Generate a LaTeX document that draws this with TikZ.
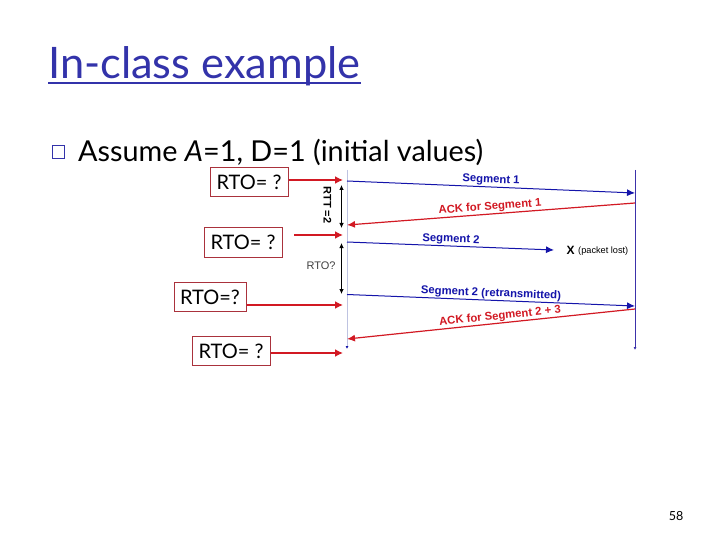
\documentclass[tikz,border=0pt]{standalone}
\usepackage{fontspec}
\setmainfont{Lato}
\newfontfamily\labelfont{Liberation Sans}
\usepackage{tikz}
\usetikzlibrary{arrows.meta}
\definecolor{titleblue}{RGB}{51,51,170}
\definecolor{segblue}{RGB}{20,20,170}
\definecolor{ackred}{RGB}{210,25,35}
\definecolor{boxred}{RGB}{170,50,60}
\definecolor{linegray}{RGB}{190,195,225}
\definecolor{lineblue}{RGB}{60,50,170}
\tikzset{
  rtobox/.style={draw=boxred,line width=1pt,fill=white,inner sep=0pt,minimum height=29pt,font=\fontsize{20}{24}\selectfont},
  redarrow/.style={draw=ackred,line width=1.8pt,-{Latex[length=8pt,width=8pt]}},
  seg/.style={draw=segblue,line width=1pt,-{Latex[length=8pt,width=7pt]}},
  ack/.style={draw=ackred,line width=1.2pt,-{Latex[length=8pt,width=7pt]}},
  span/.style={draw=black,line width=0.8pt,{Latex[length=5pt,width=4.5pt]}-{Latex[length=5pt,width=4.5pt]}},
  seglabel/.style={text=segblue,font=\labelfont\bfseries\fontsize{11.3}{13}\selectfont,inner sep=0pt},
  acklabel/.style={text=ackred,font=\labelfont\bfseries\fontsize{11.3}{13}\selectfont,inner sep=0pt},
}
\begin{document}
\begin{tikzpicture}[x=1pt,y=-1pt]
\useasboundingbox[fill=white] (0,0) rectangle (720,540);
% heading
\node (title) at (48,79) [anchor=base west,inner sep=0pt,text=titleblue,font=\fontsize{43.4}{46}\selectfont] {In-class example};
\draw[titleblue,line width=2pt] ([yshift=-4pt]title.base west) -- ([yshift=-4pt]title.base east);
\node (bullet) at (58.5,152) [draw=titleblue,line width=1.3pt,minimum size=12.5pt,inner sep=0pt] {};
\node (assume) at (78,162) [anchor=base west,inner sep=0pt,font=\fontsize{28.8}{32}\selectfont] {Assume \textit{A}=1, D=1 (initial values)};
% time lines
\coordinate (atop) at (347,170);
\coordinate (abot) at (347,349);
\coordinate (btop) at (635,170);
\coordinate (bbot) at (635,350);
\draw[linegray,line width=0.8pt,-{Latex[length=3pt,width=3pt,color=segblue]}] (atop) -- (abot);
\draw[lineblue,line width=0.8pt,-{Latex[length=3pt,width=3pt]}] (btop) -- (bbot);
% segments
\coordinate (s1a) at (347,181);
\coordinate (s1b) at (635,193);
\coordinate (k1b) at (635,203);
\coordinate (k1a) at (347,225);
\coordinate (s2a) at (347,242);
\coordinate (s2b) at (554,250);
\coordinate (s3a) at (347,294.5);
\coordinate (s3b) at (635,306);
\coordinate (k3b) at (635,309);
\coordinate (k3a) at (347,339);
\draw[seg] (s1a) -- (s1b);
\draw[ack] (k1b) -- (k1a);
\draw[seg] (s2a) -- (s2b);
\draw[seg] (s3a) -- (s3b);
\draw[ack] (k3b) -- (k3a);
\node (s1lab) at (491,180) [seglabel,rotate=-2.4] {Segment 1};
\node (k1lab) at (490,207) [acklabel,rotate=4.3] {ACK for Segment 1};
\node (s2lab) at (451,239.5) [seglabel,rotate=-2.2] {Segment 2};
\node (s3lab) at (491,293.5) [seglabel,rotate=-2.3] {Segment 2 (retransmitted)};
\node (k3lab) at (500,316.5) [acklabel,rotate=5.9] {ACK for Segment 2 + 3};
\node (lost) at (566.5,250.5) [anchor=west,inner sep=0pt,font=\labelfont\bfseries\fontsize{12}{14}\selectfont] {X};
\node (lostlab) at (578,251) [anchor=west,inner sep=0pt,font=\labelfont\fontsize{9.2}{11}\selectfont] {(packet lost)};
% intervals
\coordinate (rtt1) at (341.5,185);
\coordinate (rtt2) at (341.5,228);
\coordinate (rto1) at (341.5,243);
\coordinate (rto2) at (341.5,294);
\draw[span] (rtt1) -- (rtt2);
\draw[span] (rto1) -- (rto2);
\node (rttlab) at (327.5,205) [rotate=-90,inner sep=0pt,font=\labelfont\bfseries\fontsize{11}{13}\selectfont] {RTT =2};
\node (rtolab) at (321,266) [inner sep=0pt,text=black!75,font=\labelfont\fontsize{11}{13}\selectfont] {RTO?};
% boxes
\node[rtobox,minimum width=78pt] (box1) at (249,182.5) {RTO= ?};
\node[rtobox,minimum width=78pt] (box2) at (243,242.5) {RTO= ?};
\node[rtobox,minimum width=72pt] (box3) at (210,297) {RTO=?};
\node[rtobox,minimum width=78pt] (box4) at (231,351) {RTO= ?};
\coordinate (t1) at (343,180);
\coordinate (t2) at (343,235);
\coordinate (t2s) at (294,235);
\coordinate (t3) at (343,305);
\coordinate (t4) at (343,353);
\draw[redarrow] (box1.east |- t1) -- (t1);
\draw[redarrow] (t2s) -- (t2);
\draw[redarrow] (box3.east |- t3) -- (t3);
\draw[redarrow] (box4.east |- t4) -- (t4);
% page number
\node (page) at (676,516) [inner sep=0pt,font=\fontsize{12.5}{14}\selectfont] {58};
\end{tikzpicture}
\end{document}
